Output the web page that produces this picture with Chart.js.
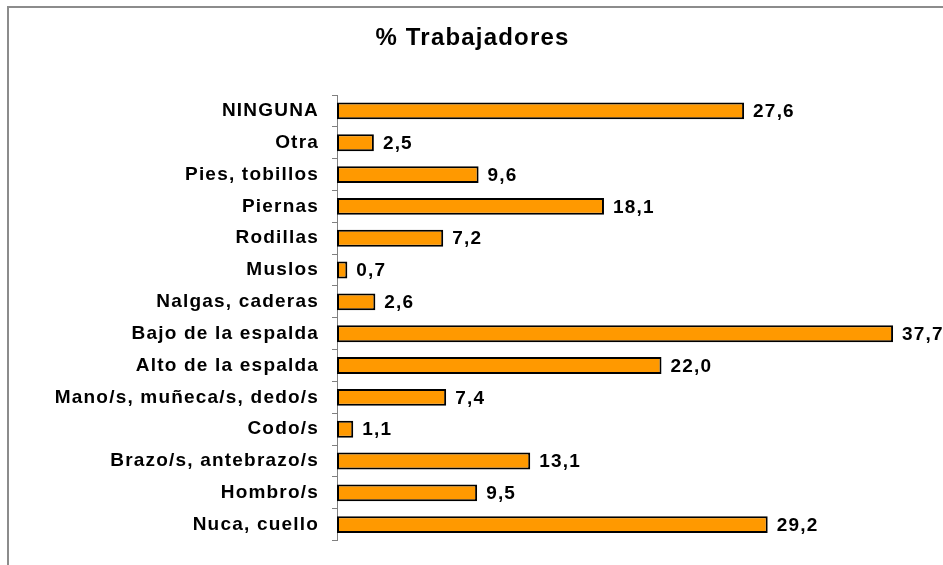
<!DOCTYPE html>
<html>
<head>
<meta charset="utf-8">
<script src="https://cdn.jsdelivr.net/npm/chart.js@4.4.1/dist/chart.umd.min.js"></script>
<style>
  html, body { margin: 0; padding: 0; background: #ffffff; }
  #c { display: block; }
</style>
</head>
<body>
<canvas id="c" width="943" height="565"></canvas>
<script>
const titleText = '% Trabajadores';
const categories = [
  'NINGUNA', 'Otra', 'Pies, tobillos', 'Piernas', 'Rodillas', 'Muslos',
  'Nalgas, caderas', 'Bajo de la espalda', 'Alto de la espalda',
  'Mano/s, muñeca/s, dedo/s', 'Codo/s', 'Brazo/s, antebrazo/s', 'Hombro/s', 'Nuca, cuello'
];
const percentages = [27.6, 2.5, 9.6, 18.1, 7.2, 0.7, 2.6, 37.7, 22.0, 7.4, 1.1, 13.1, 9.5, 29.2];
const xRange = [0, 40];

const FONT = '"Liberation Sans", Arial, sans-serif';

const framePlugin = {
  id: 'frame',
  beforeDraw(chart) {
    const ctx = chart.ctx;
    ctx.letterSpacing = '1.2px';
    ctx.save();
    ctx.fillStyle = '#ffffff';
    ctx.fillRect(0, 0, chart.width, chart.height);
    ctx.strokeStyle = '#8c8c8c';
    ctx.lineWidth = 2;
    ctx.beginPath();
    ctx.moveTo(8, chart.height);
    ctx.lineTo(8, 7);
    ctx.lineTo(chart.width, 7);
    ctx.stroke();
    // title
    ctx.fillStyle = '#000000';
    ctx.font = 'bold 24px ' + FONT;
    ctx.textAlign = 'center';
    ctx.textBaseline = 'alphabetic';
    ctx.fillText(titleText, chart.width / 2 + 1, 45);
    ctx.restore();
  },
  afterDatasetsDraw(chart) {
    const ctx = chart.ctx;
    const meta = chart.getDatasetMeta(0);
    ctx.save();
    ctx.fillStyle = '#000000';
    ctx.font = 'bold 19px ' + FONT;
    ctx.textAlign = 'left';
    ctx.textBaseline = 'middle';
    meta.data.forEach((bar, i) => {
      const v = chart.data.datasets[0].data[i];
      ctx.fillText(v.toFixed(1).replace('.', ','), bar.x + 9, bar.y + 1);
    });
    ctx.restore();
  }
};

new Chart(document.getElementById('c'), {
  type: 'bar',
  data: {
    labels: categories,
    datasets: [{
      data: percentages,
      backgroundColor: '#FF9900',
      borderColor: '#000000',
      borderWidth: 2,
      borderSkipped: false,
      categoryPercentage: 1.0,
      barPercentage: 0.53
    }]
  },
  options: {
    indexAxis: 'y',
    responsive: false,
    animation: false,
    events: [],
    layout: { padding: { left: 0, right: 16, top: 95, bottom: 22 } },
    plugins: {
      legend: { display: false },
      title: { display: false },
      tooltip: { enabled: false }
    },
    scales: {
      x: {
        display: false,
        min: xRange[0],
        max: xRange[1]
      },
      y: {
        afterFit(scale) { scale.width = 337; },
        border: { display: true, color: '#808080', width: 1 },
        grid: {
          offset: true,
          drawOnChartArea: false,
          drawTicks: true,
          tickLength: 5,
          color: '#808080'
        },
        ticks: {
          color: '#000000',
          padding: 13,
          font: { family: FONT, size: 19, weight: 'bold' }
        }
      }
    }
  },
  plugins: [framePlugin]
});
</script>
</body>
</html>
